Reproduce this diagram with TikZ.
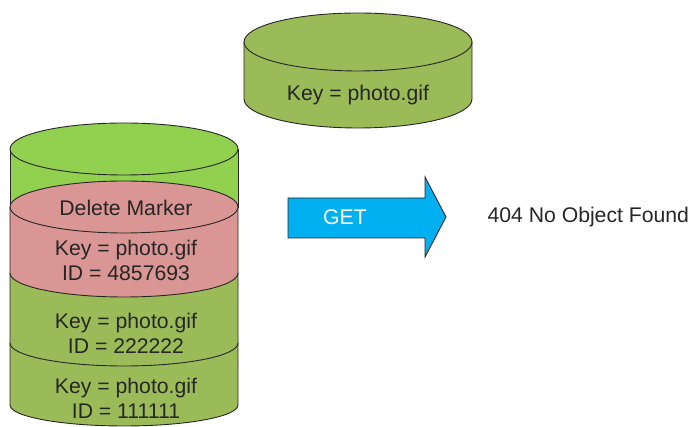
\documentclass[tikz,border=0pt]{standalone}
\usepackage{fontspec}
\setmainfont{Liberation Sans}
\definecolor{lightgreen}{HTML}{92D050}
\definecolor{olivegreen}{HTML}{9BBB59}
\definecolor{markerpink}{HTML}{DA9694}
\definecolor{getblue}{HTML}{00B0F0}
\definecolor{textgray}{HTML}{262626}
\tikzset{
  part/.style={draw=black!85, line width=0.9pt},
  txt/.style={text=textgray, align=center, font=\fontsize{21.2}{25}\selectfont},
}

\begin{document}
\begin{tikzpicture}[x=1pt,y=1pt]
        \useasboundingbox (0,0) rectangle (696,427);

        % object with key only
        \filldraw[part, fill=olivegreen] (244,385) -- (244,328) arc (180:360:114pt and 29pt) -- (472,385) -- cycle;
        \filldraw[part, fill=olivegreen] (358,385) ellipse (114pt and 29pt);
        \node[txt] (keyonly) at (358,332) {Key = photo.gif};

        % versioned stack
        \filldraw[part, fill=lightgreen] (10,278) -- (10,220) -- (238,220) -- (238,278) -- cycle;
        \filldraw[part, fill=lightgreen] (124,278) ellipse (114pt and 26pt);
        \foreach \ya/\yb/\ry/\col in {84/22/21/olivegreen, 154/84/23/olivegreen, 220/154/24/markerpink}
        \filldraw[part, fill=\col] (10,\ya) -- (10,\yb) arc (180:360:114pt and \ry pt) -- (238,\ya) -- cycle;
        \filldraw[part, fill=markerpink] (124,220) ellipse (114pt and 26pt);

        \node[txt] (marker) at (126,219) {Delete Marker};
        \node[txt] (vmarker) at (126,167) {Key = photo.gif\\ID = 4857693};
        \node[txt] (vtwo) at (126,94) {Key = photo.gif\\ID = 222222};
        \node[txt] (vone) at (126,29) {Key = photo.gif\\ID = 111111};

        % request
        \filldraw[part, fill=getblue] (288,229) -- (425,229) -- (425,250) -- (446,210) -- (425,170) -- (425,189) -- (288,189) -- cycle;
        \node[txt, text=white] (get) at (345,210) {GET};
        \node[txt, anchor=west] (result) at (484,210) {404 No Object Found};

        \end{tikzpicture}
\end{document}
